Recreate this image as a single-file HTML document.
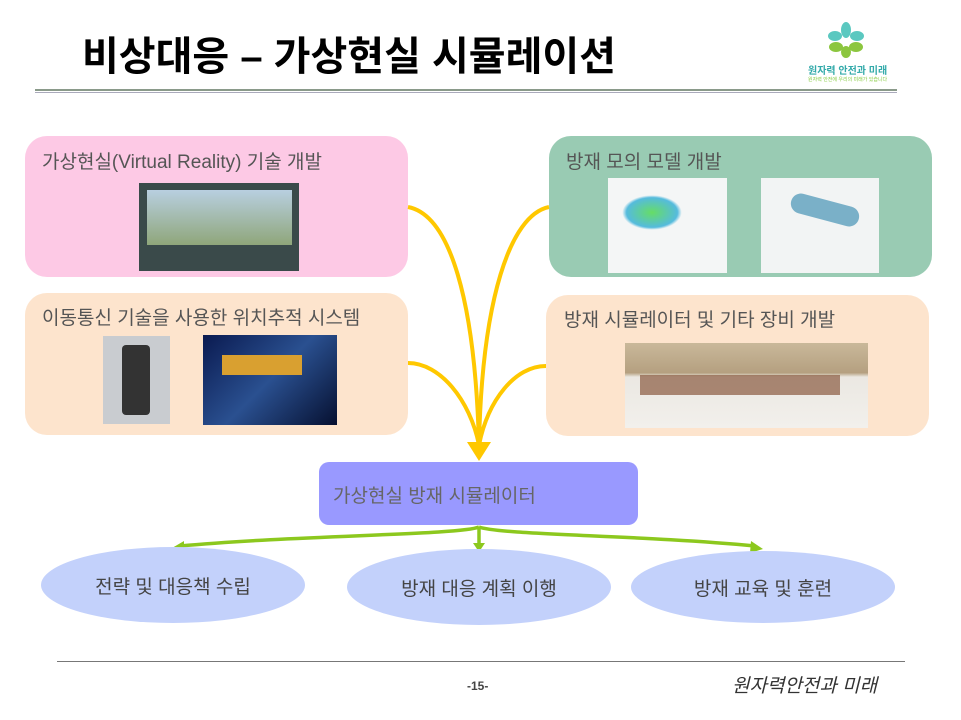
<!DOCTYPE html>
<html><head><meta charset="utf-8"><style>
body{margin:0;width:961px;height:720px;background:#fff;position:relative;overflow:hidden;font-family:"Liberation Sans","Noto Sans CJK KR",sans-serif}
.a{position:absolute}
.box{position:absolute;border-radius:22px}
.t{position:absolute;font-size:19px;color:#555}
.ell{position:absolute;border-radius:50%;background:#c3d1fb;display:flex;align-items:center;justify-content:center;font-size:19px;color:#444}
</style></head><body>
<div class="a" style="left:82px;top:24px;font-size:40px;font-weight:bold;color:#000;letter-spacing:0px">비상대응 – 가상현실 시뮬레이션</div>
<div class="a" style="left:35px;top:89px;width:862px;height:2px;background:#8a9a8a"></div>
<div class="a" style="left:35px;top:92px;width:862px;height:1px;background:#aab"></div>
<svg class="a" style="left:826px;top:22px" width="40" height="36"><g fill="#5bc8c0"><ellipse cx="20" cy="8" rx="5" ry="8"/><ellipse cx="9" cy="14" rx="7" ry="5"/><ellipse cx="31" cy="14" rx="7" ry="5"/></g><g fill="#8cc63f"><ellipse cx="10" cy="25" rx="7" ry="5"/><ellipse cx="30" cy="25" rx="7" ry="5"/><ellipse cx="20" cy="30" rx="5" ry="6"/></g></svg>
<div class="a" style="left:808px;top:62px;font-size:10px;color:#3aa;font-weight:bold">원자력 안전과 미래</div>
<div class="a" style="left:808px;top:76px;font-size:5px;color:#8c4">원자력 안전에 우리의 미래가 있습니다</div>

<div class="box" style="left:25px;top:136px;width:383px;height:141px;background:#fdc9e5"></div>
<div class="t" style="left:42px;top:147px">가상현실(Virtual Reality) 기술 개발</div>
<div class="a" style="left:139px;top:183px;width:160px;height:88px;background:#3a4a4a"></div>
<div class="a" style="left:147px;top:190px;width:145px;height:55px;background:linear-gradient(#b8cfe0,#8fa67a)"></div>

<div class="box" style="left:549px;top:136px;width:383px;height:141px;background:#99cbb3"></div>
<div class="t" style="left:566px;top:147px">방재 모의 모델 개발</div>
<div class="a" style="left:608px;top:178px;width:119px;height:95px;background:#f4f6f6"></div>
<div class="a" style="left:622px;top:195px;width:60px;height:35px;border-radius:50%;background:radial-gradient(#6d6,#5bd 60%,#f4f6f6 70%)"></div>
<div class="a" style="left:761px;top:178px;width:118px;height:95px;background:#f2f4f4"></div>
<div class="a" style="left:790px;top:200px;width:70px;height:20px;background:#7ab0c8;transform:rotate(15deg);border-radius:10px"></div>

<div class="box" style="left:25px;top:293px;width:383px;height:142px;background:#fde4cd"></div>
<div class="t" style="left:42px;top:303px">이동통신 기술을 사용한 위치추적 시스템</div>
<div class="a" style="left:103px;top:336px;width:67px;height:88px;background:#c9ccd0"></div>
<div class="a" style="left:122px;top:345px;width:28px;height:70px;background:#333;border-radius:4px"></div>
<div class="a" style="left:203px;top:335px;width:134px;height:90px;background:linear-gradient(135deg,#0a1a50,#2a5090 50%,#061030)"></div>
<div class="a" style="left:222px;top:355px;width:80px;height:20px;background:#d9a030"></div>

<div class="box" style="left:546px;top:295px;width:383px;height:141px;background:#fde4cd"></div>
<div class="t" style="left:564px;top:305px">방재 시뮬레이터 및 기타 장비 개발</div>
<div class="a" style="left:625px;top:343px;width:243px;height:85px;background:linear-gradient(#c9b89a 0,#b5a080 35%,#ebe8e2 40%,#f2f0ec)"></div>
<div class="a" style="left:640px;top:375px;width:200px;height:20px;background:#8a5a40;opacity:.7"></div>

<svg class="a" style="left:0;top:0" width="961" height="720">
<g fill="none" stroke="#ffc800" stroke-width="4">
<path d="M408 207 C450 215 475 300 479 445"/>
<path d="M408 363 C440 363 470 400 479 445"/>
<path d="M549 207 C510 215 482 300 479 445"/>
<path d="M546 366 C515 366 488 400 479 445"/>
</g>
<polygon points="467,442 491,442 479,461" fill="#ffc800"/>
<g fill="none" stroke="#8cc81e" stroke-width="3.5">
<path d="M479 527 C460 535 300 535 180 546"/>
<path d="M479 527 L479 545"/>
<path d="M479 527 C500 535 640 535 755 546"/>
</g>
<polygon points="172,548 184,541 184,553" fill="#8cc81e"/>
<polygon points="473,543 485,543 479,552" fill="#8cc81e"/>
<polygon points="763,549 751,541 750,553" fill="#8cc81e"/>
</svg>

<div class="box" style="left:319px;top:462px;width:319px;height:63px;border-radius:10px;background:#9999ff"></div>
<div class="t" style="left:333px;top:481px;color:#666">가상현실 방재 시뮬레이터</div>

<div class="ell" style="left:41px;top:547px;width:264px;height:76px">전략 및 대응책 수립</div>
<div class="ell" style="left:347px;top:549px;width:264px;height:76px">방재 대응 계획 이행</div>
<div class="ell" style="left:631px;top:551px;width:264px;height:72px">방재 교육 및 훈련</div>

<div class="a" style="left:57px;top:661px;width:848px;height:1px;background:#777"></div>
<div class="a" style="left:467px;top:679px;font-size:12px;font-weight:bold;color:#444">-15-</div>
<div class="a" style="left:732px;top:671px;font-size:19px;font-style:italic;color:#333">원자력안전과 미래</div>
</body></html>
